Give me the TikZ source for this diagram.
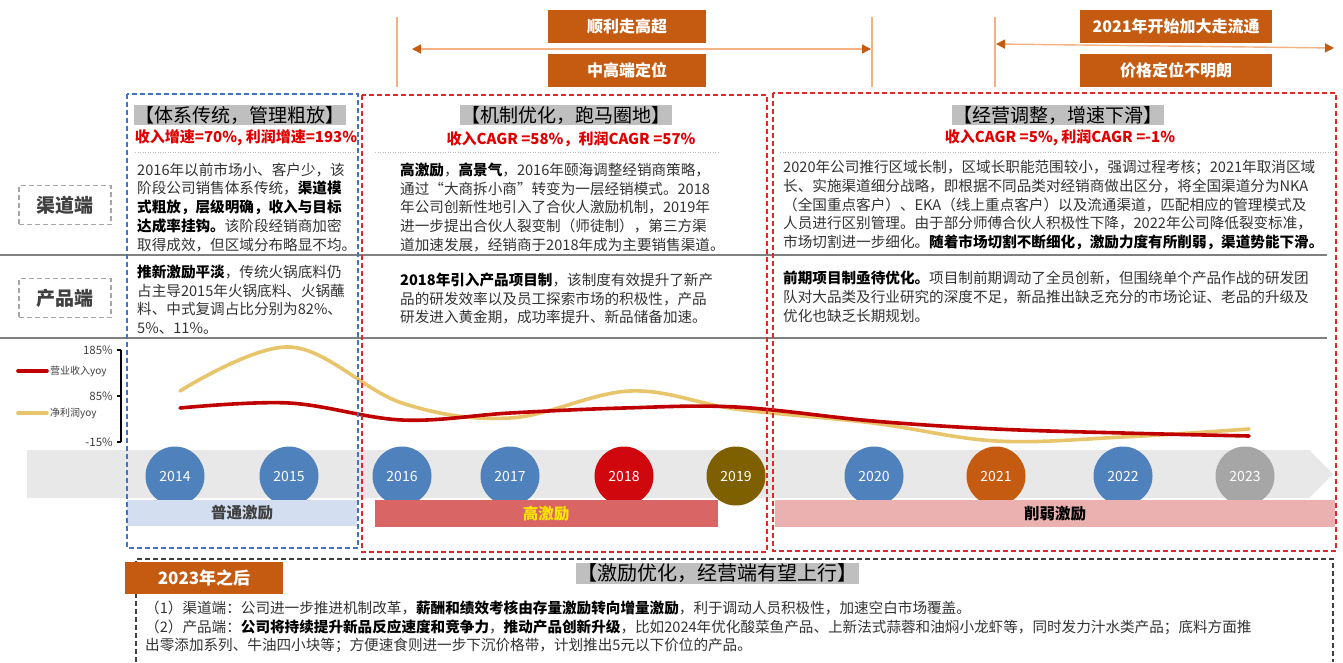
\documentclass[tikz,border=0pt]{standalone}
\usepackage{fontspec}
\setmainfont{Noto Sans CJK SC}
\usetikzlibrary{arrows.meta}
\definecolor{ora}{HTML}{C55A11}
\definecolor{tanc}{HTML}{F4B183}
\definecolor{bluec}{HTML}{4F81BD}
\definecolor{redc}{HTML}{D0080D}
\definecolor{olivec}{HTML}{7F6000}
\definecolor{grayc}{HTML}{A6A6A6}
\definecolor{redln}{HTML}{C00000}
\definecolor{yelln}{HTML}{E8C56A}
\definecolor{bandc}{HTML}{E8E8E8}
\definecolor{barblue}{HTML}{D3DEF0}
\definecolor{barred}{HTML}{D96565}
\definecolor{barpink}{HTML}{EBB1B1}
\definecolor{dblue}{HTML}{4472C4}
\definecolor{dred}{HTML}{E02828}
\definecolor{ttlgray}{HTML}{BFBFBF}
\definecolor{redtxt}{HTML}{E00000}
\definecolor{txt}{HTML}{333333}
\definecolor{sepgray}{HTML}{808080}
\definecolor{yeltxt}{HTML}{FFE800}
\definecolor{lblgray}{HTML}{404040}
\begin{document}
\begin{tikzpicture}[x=1pt,y=-1pt,
  body/.style={anchor=north west, inner sep=0pt, align=left, text=txt, font=\fontsize{14.6}{18.8}\selectfont},
  topbox/.style={fill=ora, text=white, font=\fontsize{16}{18}\selectfont\bfseries, inner sep=0pt, minimum height=33},
  ttl/.style={fill=ttlgray, text=black, inner xsep=1.5pt, inner ysep=1pt, font=\fontsize{19}{21}\selectfont},
  redt/.style={text=redtxt, inner sep=0pt, font=\fontsize{15}{17}\selectfont\bfseries},
  sepdot/.style={draw=gray!55, line width=0.8, dash pattern=on 1pt off 1.5pt},
  sepline/.style={draw=sepgray, line width=1.8},
  vbar/.style={draw=tanc, line width=1.2},
  arr/.style={draw=tanc, line width=1.4, {Triangle[color=ora,length=9pt,width=9pt]}-{Triangle[color=ora,length=9pt,width=9pt]}},
  sidebox/.style={draw=grayc, line width=1.6, dash pattern=on 5pt off 3pt, minimum width=92, minimum height=39, text=lblgray, font=\fontsize{19}{21}\selectfont\bfseries},
  yr/.style={circle, minimum size=59, inner sep=0pt, text=white, font=\fontsize{14}{16}\selectfont},
  bar/.style={inner sep=0pt, font=\fontsize{15.5}{17}\selectfont\bfseries},
  dashbox/.style={line width=1.3, dash pattern=on 5pt off 3pt},
  ax/.style={font=\fontsize{11.5}{13}\selectfont, text=lblgray, anchor=east, inner sep=0pt},
  leg/.style={font=\fontsize{10}{12}\selectfont, text=lblgray, anchor=west, inner sep=0pt},
  curve/.style={line width=3.6, line cap=round}
]
\useasboundingbox (0,0) rectangle (1343,662);
\fill[white] (0,0) rectangle (1343,662);

% ---------- top markers ----------
\draw[vbar] (397,17) -- (397,87);
\draw[vbar] (872,17) -- (872,87);
\draw[vbar] (995,17) -- (995,87);
\coordinate (a1s) at (412,49);
\coordinate (a1e) at (871,49);
\coordinate (a2s) at (996,44);
\coordinate (a2e) at (1334,48);
\draw[arr] (a1s) -- (a1e);
\draw[arr] (a2s) -- (a2e);
\node[topbox, minimum width=158] (t1) at (627,26.5) {顺利走高超};
\node[topbox, minimum width=158] (t2) at (627,70.5) {中高端定位};
\node[topbox, minimum width=192] (t3) at (1176,26) {2021年开始加大走流通};
\node[topbox, minimum width=192] (t4) at (1176,70) {价格定位不明朗};

% ---------- separators ----------
\draw[sepline] (0,255) -- (1327,255);
\draw[sepline] (0,338) -- (1327,338);

% ---------- side labels ----------
\node[sidebox] (qd) at (65,205) {渠道端};
\node[sidebox] (cp) at (65,298) {产品端};

% ---------- column 1 ----------
\node[ttl] (h1) at (240,115) {【体系传统，管理粗放】};
\node[redt] (r1) at (246,138) {收入增速=70\%, 利润增速=193\%};
\draw[sepdot] (135,152) -- (355,152);
\node[body] (c1) at (137,162.5) {2016年以前市场小、客户少，该\\
阶段公司销售体系传统，\textbf{\color{black}渠道模}\\
\textbf{\color{black}式粗放，层级明确，收入与目标}\\
\textbf{\color{black}达成率挂钩。}该阶段经销商加密\\
取得成效，但区域分布略显不均。};
\node[body] (p1) at (137,264.5) {\textbf{\color{black}推新激励平淡}，传统火锅底料仍\\
占主导2015年火锅底料、火锅蘸\\
料、中式复调占比分别为82\%、\\
5\%、11\%。};

% ---------- column 2 ----------
\node[ttl] (h2) at (566,115) {【机制优化，跑马圈地】};
\node[redt] (r2) at (571,139) {收入CAGR =58\%，利润CAGR =57\%};
\draw[sepdot] (375,152) -- (718,152);
\node[body] (c2) at (400,162.5) {\textbf{\color{black}高激励}，\textbf{\color{black}高景气}，2016年颐海调整经销商策略，\\
通过“大商拆小商”转变为一层经销模式。2018\\
年公司创新性地引入了合伙人激励机制，2019年\\
进一步提出合伙人裂变制（师徒制），第三方渠\\
道加速发展，经销商于2018年成为主要销售渠道。};
\node[body] (p2) at (400,272.5) {\textbf{\color{black}2018年引入产品项目制}，该制度有效提升了新产\\
品的研发效率以及员工探索市场的积极性，产品\\
研发进入黄金期，成功率提升、新品储备加速。};

% ---------- column 3 ----------
\node[ttl] (h3) at (1058,115) {【经营调整，增速下滑】};
\node[redt] (r3) at (1060,138) {收入CAGR =5\%, 利润CAGR =-1\%};
\draw[sepdot] (780,152) -- (1335,152);
\node[body] (c3) at (783,160) {2020年公司推行区域长制，区域长职能范围较小，强调过程考核；2021年取消区域\\
长、实施渠道细分战略，即根据不同品类对经销商做出区分，将全国渠道分为NKA\\
（全国重点客户）、EKA（线上重点客户）以及流通渠道，匹配相应的管理模式及\\
人员进行区别管理。由于部分师傅合伙人积极性下降，2022年公司降低裂变标准，\\
市场切割进一步细化。\textbf{\color{black}随着市场切割不断细化，激励力度有所削弱，渠道势能下滑。}};
\node[body] (p3) at (783,271) {\textbf{\color{black}前期项目制亟待优化。}项目制前期调动了全员创新，但围绕单个产品作战的研发团\\
队对大品类及行业研究的深度不足，新品推出缺乏充分的市场论证、老品的升级及\\
优化也缺乏长期规划。};

% ---------- chart ----------
\draw[black, line width=1.2] (121,350) -- (121,442);
\foreach \yy in {350,396,442} \draw[black, line width=1.2] (117,\yy) -- (121,\yy);
\node[ax] (l185) at (113,350) {185\%};
\node[ax] (l85) at (113,396) {85\%};
\node[ax] (l15) at (113,442) {-15\%};
\draw[curve, redln] (18,371) -- (47,371);
\node[leg] (lg1) at (50,371) {营业收入yoy};
\draw[curve, yelln] (18,413) -- (47,413);
\node[leg] (lg2) at (50,413) {净利润yoy};

\draw[curve, yelln] plot[smooth, tension=0.6] coordinates {(180,391) (290,347) (402,403) (510,418) (630,391) (736,409) (873,423) (996,441) (1123,437) (1249,429)};
\draw[curve, redln] plot[smooth, tension=0.6] coordinates {(180,408) (289,403) (402,420) (510,413) (624,408) (736,407) (873,421) (996,429) (1123,433) (1249,436)};

% ---------- timeline ----------
\fill[bandc] (27,450) -- (1309,450) -- (1333,474) -- (1309,498) -- (27,498) -- cycle;
\node[yr, fill=bluec] (y2014) at (175,476) {2014};
\node[yr, fill=bluec] (y2015) at (289,476) {2015};
\node[yr, fill=bluec] (y2016) at (402,476) {2016};
\node[yr, fill=bluec] (y2017) at (510,476) {2017};
\node[yr, fill=redc] (y2018) at (624,476) {2018};
\node[yr, fill=olivec] (y2019) at (736,476) {2019};
\node[yr, fill=bluec] (y2020) at (874,476) {2020};
\node[yr, fill=ora] (y2021) at (996,476) {2021};
\node[yr, fill=bluec] (y2022) at (1123,476) {2022};
\node[yr, fill=grayc] (y2023) at (1245,476) {2023};

% ---------- incentive bars ----------
\fill[barblue] (127,500) rectangle (357,526);
\node[bar, text=lblgray] (b1) at (242,513) {普通激励};
\fill[barred] (375,500) rectangle (718,527);
\node[bar, text=yeltxt] (b2) at (546,513.5) {高激励};
\fill[barpink] (775,500) rectangle (1335,527);
\node[bar, text=black] (b3) at (1055,513.5) {削弱激励};

% ---------- dashed period boxes ----------
\draw[dashbox, dblue] (127,94) rectangle (358,548);
\draw[dashbox, dred] (362,95) rectangle (767,552);
\draw[dashbox, dred] (773,93) rectangle (1336,551);

% ---------- bottom ----------
\draw[line width=1.2, lblgray, dash pattern=on 5pt off 3pt] (136,662) -- (136,559) -- (1333,559) -- (1333,662);
\node[fill=ora, text=white, minimum width=158, minimum height=32, inner sep=0pt, font=\fontsize{17}{19}\selectfont\bfseries] (after) at (204,578) {2023年之后};
\node[ttl, font=\fontsize{20}{22}\selectfont] (h4) at (717,573.5) {【激励优化，经营端有望上行】};
\node[body] (bt) at (145,600.5) {（1）渠道端：公司进一步推进机制改革，\textbf{\color{black}薪酬和绩效考核由存量激励转向增量激励}，利于调动人员积极性，加速空白市场覆盖。\\
（2）产品端：\textbf{\color{black}公司将持续提升新品反应速度和竞争力}，\textbf{\color{black}推动产品创新升级}，比如2024年优化酸菜鱼产品、上新法式蒜蓉和油焖小龙虾等，同时发力汁水类产品；底料方面推\\
出零添加系列、牛油四小块等；方便速食则进一步下沉价格带，计划推出5元以下价位的产品。};
\end{tikzpicture}
\end{document}
